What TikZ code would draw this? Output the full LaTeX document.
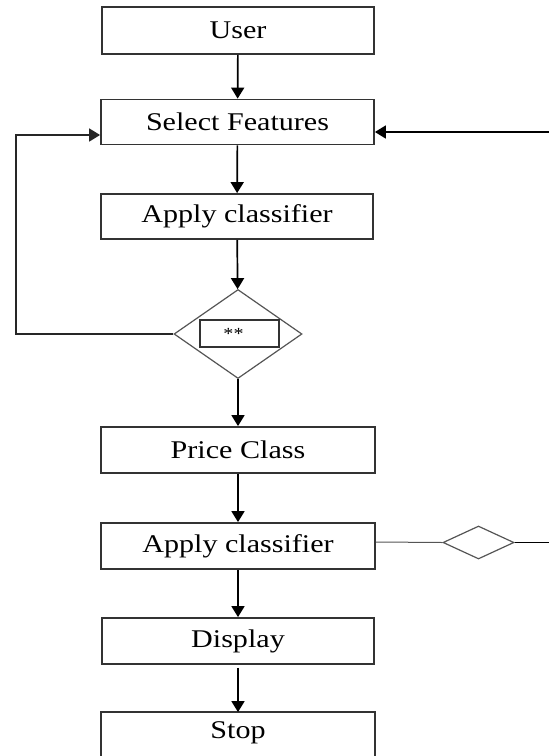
\documentclass[tikz,border=0pt]{standalone}
\usepackage{fontspec}
\setmainfont{Liberation Serif}[FakeStretch=1.18]
\usetikzlibrary{shapes.geometric,arrows.meta}
\definecolor{boxline}{HTML}{333333}
\definecolor{dline}{HTML}{555555}
\newcommand\lbl{\fontsize{25.5}{30}\selectfont}
\tikzset{
  stepbox/.style={draw=boxline, line width=1.8pt, minimum width=272pt, minimum height=46pt, inner sep=0pt, font=\lbl, text=black},
  con/.style={line width=1.7pt, black, -{Triangle[width=13pt,length=11pt]}},
  decis/.style={diamond, draw=dline, line width=1.2pt, inner sep=0pt},
}
\begin{document}
\begin{tikzpicture}[x=1pt,y=-1pt]
\useasboundingbox (0,0) rectangle (549,756);
\node[stepbox, minimum height=47pt] (user) at (238,30.5) {User};
\node[stepbox, minimum width=273pt, minimum height=45pt] (sel) at (237.5,122) {Select Features};
\node[stepbox, minimum height=45pt] (app1) at (237,216.5) {Apply classifier};
\node[decis, minimum width=128pt, minimum height=89pt, aspect=1.44] (dec) at (238,334) {};
\node[draw=boxline, line width=1.4pt, minimum width=79pt, minimum height=27pt, inner sep=0pt, font=\fontsize{17}{19}\selectfont] (ib) at (239.5,333.5) {\kern-12pt **};
\node[stepbox, minimum width=274pt] (price) at (238,450) {Price Class};
\node[stepbox, minimum width=274pt] (app2) at (238,546) {Apply classifier};
\node[decis, minimum width=71pt, minimum height=33pt, aspect=2.15] (sd) at (478.5,542.5) {};
\node[stepbox, minimum width=272pt] (disp) at (238,641) {Display};
\node[stepbox, draw=none, minimum height=40pt] (stop) at (238,733) {Stop};
\draw[draw=boxline, line width=1.8pt] (stop.west |- 0,756) -- (stop.north west) -- (stop.north east) -- (stop.east |- 0,756);
% vertical connectors
\draw[con] (user) -- (sel);
\draw[con] (sel) -- (app1);
\draw[con] (app1) -- (dec);
\draw[con] (dec) -- (price);
\draw[con] (price) -- (app2);
\draw[con] (app2) -- (disp);
\draw[con] ([yshift=-3pt]disp.south) -- (stop);
% loop back
\draw[con, draw=black!85] (dec.west) -- (16,334) |- ([yshift=-13pt]sel.west);
% right incoming arrow
\coordinate (rin) at (549,132);
\draw[con] (rin) -- (rin -| sel.east);
% small diamond line
\draw[dline, line width=1pt] ([yshift=4pt]app2.east) -- (sd.west);
\coordinate (rout) at (549,542.5);
\draw[black, line width=1.2pt] (sd.east) -- (rout);
\end{tikzpicture}
\end{document}
